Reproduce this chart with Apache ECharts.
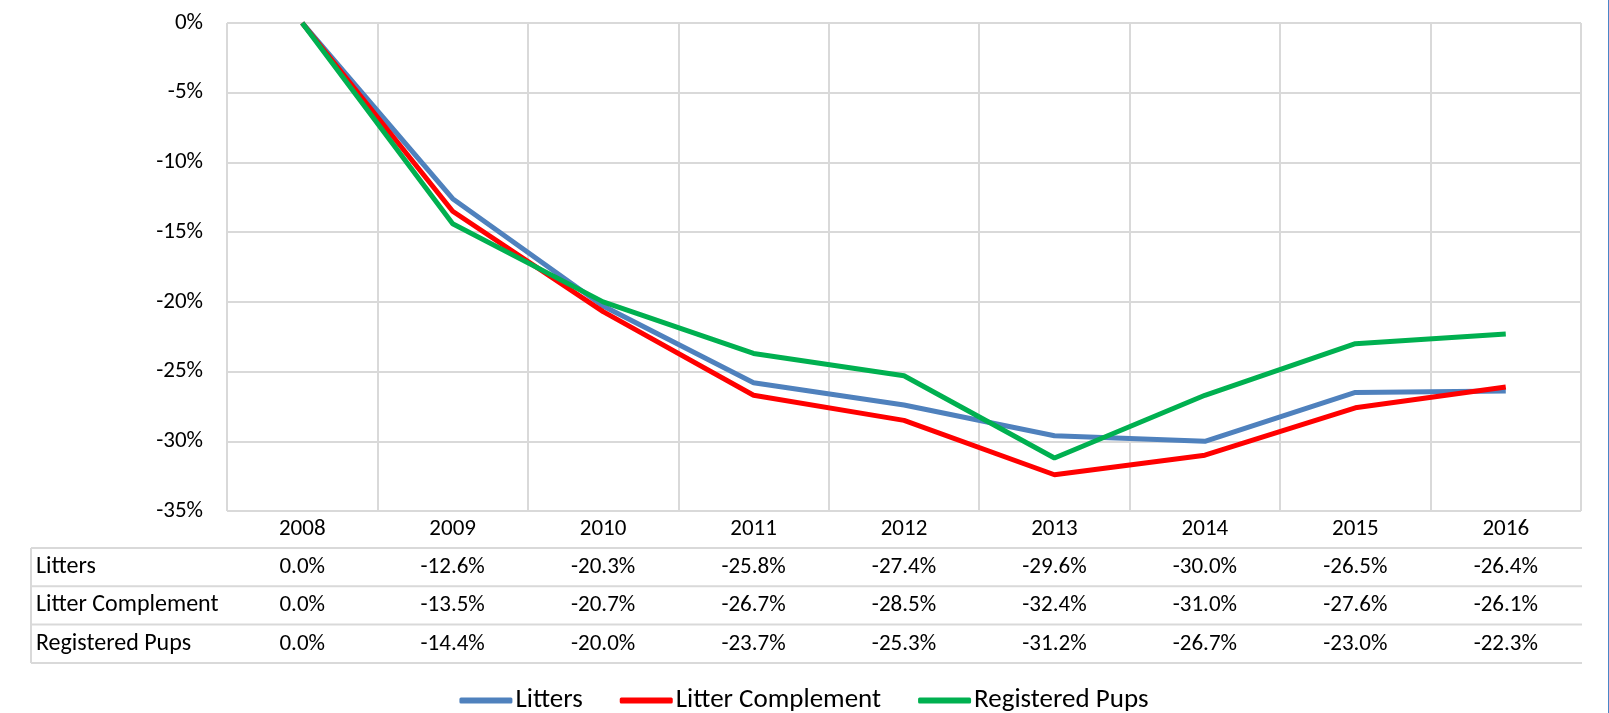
<!DOCTYPE html>
<html>
<head>
<meta charset="utf-8">
<script src="https://cdn.jsdelivr.net/npm/echarts@6/dist/echarts.min.js"></script>
<style>
  html, body { margin: 0; padding: 0; background: #fff; }
  #main { width: 1608px; height: 713px; border-right: 1px solid #4a86c8; }
</style>
</head>
<body>
<div id="main"></div>
<script>
  // data (percent change vs 2008)
  var years = ['2008', '2009', '2010', '2011', '2012', '2013', '2014', '2015', '2016'];
  var litters = [0.0, -12.6, -20.3, -25.8, -27.4, -29.6, -30.0, -26.5, -26.4];
  var litterComplement = [0.0, -13.5, -20.7, -26.7, -28.5, -32.4, -31.0, -27.6, -26.1];
  var registeredPups = [0.0, -14.4, -20.0, -23.7, -25.3, -31.2, -26.7, -23.0, -22.3];
  var seriesNames = ['Litters', 'Litter Complement', 'Registered Pups'];
  var yTicks = [-35, -30, -25, -20, -15, -10, -5, 0];

  var FONT = 'Carlito, Lato, sans-serif';
  var GRID_COLOR = '#d9d9d9';
  var colors = ['#4f81bd', '#ff0000', '#00b050'];
  var rowData = [litters, litterComplement, registeredPups];

  var myChart = echarts.init(document.getElementById('main'));

  var option = {
    animation: false,
    color: colors,
    grid: { left: 227, right: 27, top: 23, bottom: 202 },
    legend: {
      data: seriesNames,
      top: 682,
      left: 'center',
      icon: 'roundRect',
      itemWidth: 53,
      itemHeight: 6,
      itemGap: 37,
      textStyle: { fontFamily: FONT, fontSize: 27, color: '#000', padding: [0, 0, 0, -2] }
    },
    xAxis: {
      type: 'category',
      data: years,
      boundaryGap: true,
      axisLine: { show: false },
      axisTick: { show: true, length: 152, lineStyle: { color: GRID_COLOR, width: 2 } },
      axisLabel: { fontFamily: FONT, fontSize: 23, color: '#000', margin: 7 },
      splitLine: { show: true, lineStyle: { color: GRID_COLOR, width: 2 } }
    },
    yAxis: {
      type: 'value',
      min: yTicks[0],
      max: yTicks[yTicks.length - 1],
      interval: 5,
      axisLine: { show: false },
      axisTick: { show: false },
      axisLabel: {
        fontFamily: FONT, fontSize: 23, color: '#000', margin: 24,
        formatter: function (v) { return v + '%'; }
      },
      splitLine: { lineStyle: { color: GRID_COLOR, width: 2 } }
    },
    series: seriesNames.map(function (name, i) {
      return {
        name: name,
        type: 'line',
        data: rowData[i],
        symbol: 'none',
        lineStyle: { width: 5, color: colors[i] }
      };
    })
  };
  myChart.setOption(option);

  // data table under the axis, placed from the chart's own scales
  function drawTable() {
    var bottomY = myChart.convertToPixel({ yAxisIndex: 0 }, yTicks[0]);
    var leftX = myChart.convertToPixel({ xAxisIndex: 0 }, 0);
    var step = myChart.convertToPixel({ xAxisIndex: 0 }, 1) - leftX;
    var plotLeft = leftX - step / 2;
    var plotRight = plotLeft + step * years.length;
    var tableLeft = 31;
    var headerH = 37;
    var rowH = 38.3;
    var g = [];
    var y0 = bottomY + headerH;
    for (var r = 0; r <= rowData.length; r++) {
      var yy = y0 + r * rowH;
      g.push({ type: 'line', shape: { x1: tableLeft, y1: yy, x2: plotRight + 1, y2: yy },
        style: { stroke: GRID_COLOR, lineWidth: 2 } });
    }
    g.push({ type: 'line', shape: { x1: tableLeft, y1: y0, x2: tableLeft, y2: y0 + rowH * rowData.length },
      style: { stroke: GRID_COLOR, lineWidth: 2 } });
    for (var i = 0; i < rowData.length; i++) {
      var cy = y0 + (i + 0.5) * rowH;
      g.push({ type: 'text', x: tableLeft + 5, y: cy,
        style: { text: seriesNames[i], font: '24px ' + FONT, fill: '#000', align: 'left', verticalAlign: 'middle' } });
      for (var j = 0; j < years.length; j++) {
        var cx = myChart.convertToPixel({ xAxisIndex: 0 }, j);
        g.push({ type: 'text', x: cx, y: cy,
          style: { text: rowData[i][j].toFixed(1) + '%', font: '23px ' + FONT, fill: '#000', align: 'center', verticalAlign: 'middle' } });
      }
    }
    myChart.setOption({ graphic: g });
  }
  drawTable();
</script>
</body>
</html>
